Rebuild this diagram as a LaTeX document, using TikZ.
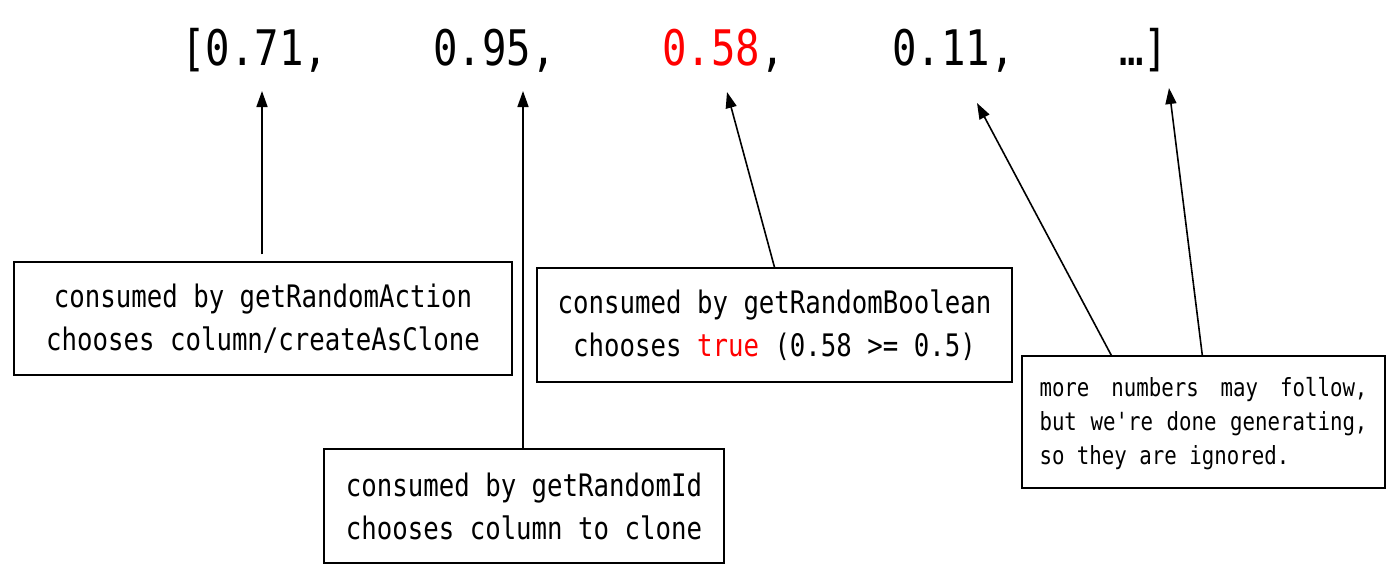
\documentclass[tikz,border=0pt]{standalone}
\usepackage{fontspec}
\newfontfamily\mono[FakeStretch=0.83,Ligatures=TeXOff]{DejaVu Sans Mono}
\usetikzlibrary{arrows.meta,calc}
\begin{document}
\begin{tikzpicture}[x=1pt,y=-1pt,
  box/.style={draw,line width=1.4pt,inner sep=0pt,align=center,
    font=\mono\fontsize{31}{43}\selectfont},
  arr/.style={line width=1.6pt,-{Triangle[length=16pt,width=11pt]}},
  num/.style={anchor=base west,inner sep=0pt,font=\mono\fontsize{49}{49}\selectfont}]
\useasboundingbox[fill=white] (0,0) rectangle (1400,579);

% the sequence of numbers
\node[num] (n1) at (181,65) {[0.71,};
\node[num] (n2) at (433,65) {0.95,};
\node[num] (n3) at (662,65) {\textcolor{red}{0.58},};
\node[num] (n4) at (892,65) {0.11,};
\node[num] (n5) at (1119,65) {…]};

% arrow tips below the numbers
\coordinate (p1) at (262,91);
\coordinate (p2) at (523,91);
\coordinate (p3) at (727,92);
\coordinate (p4) at (977,103);
\coordinate (p5) at (1169,88);

% boxes
\node[box,minimum width=498pt,minimum height=113pt] (b1) at (263,318.5)
  {consumed by getRandomAction\\chooses column/createAsClone};
\node[box,minimum width=400pt,minimum height=114pt] (b2) at (524,506)
  {consumed by getRandomId\\chooses column to clone};
\node[box,minimum width=475pt,minimum height=114pt] (b3) at (774.5,325)
  {consumed by getRandomBoolean\\chooses \textcolor{red}{true} (0.58 >= 0.5)};
\node[box,align=left,font=\mono\fontsize{25}{34}\selectfont,
  minimum width=363pt,minimum height=132pt] (b4) at (1203.5,422)
  {\hbox to 328pt{\rule{0pt}{22pt}more \hfill numbers \hfill may \hfill follow,}\\
   \hbox to 328pt{but we're done generating,}\\
   \hbox to 328pt{so they are ignored.\hfill}};

% connectors
\draw[arr] ($(b1.north)+(-1,-7)$) -- (p1);
\draw[arr] ($(b2.north)+(-1,0)$) -- (p2);
\draw[arr] (b3.north) -- (p3);
\draw[arr] ($(b4.north west)+(90,0)$) -- (p4);
\draw[arr] ($(b4.north west)+(181,0)$) -- (p5);
\end{tikzpicture}
\end{document}
